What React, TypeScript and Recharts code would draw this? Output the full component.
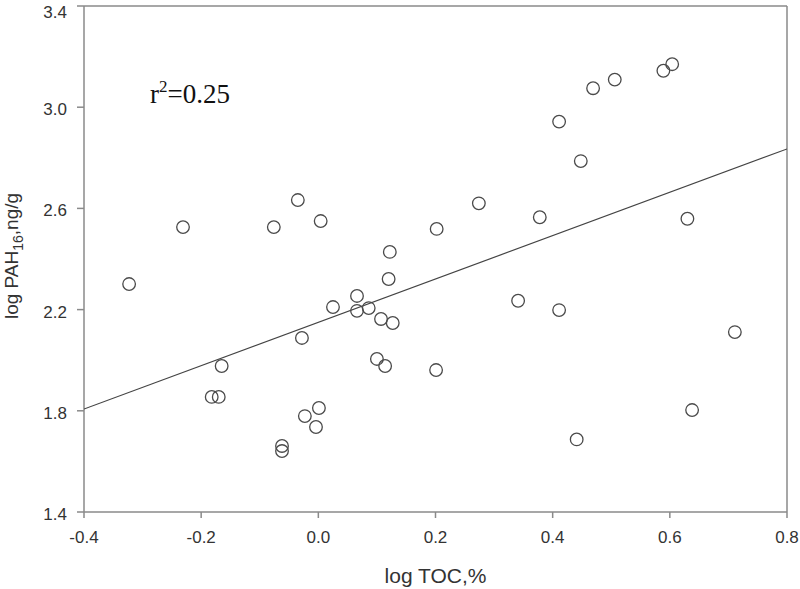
import React from 'react';
import {
    ScatterChart,
    Scatter,
    XAxis,
    YAxis,
    ReferenceLine,
    Label,
} from 'recharts';

// log TOC (%) for each sample
const tocValues = [
    -0.323, -0.231, -0.165, -0.182, -0.17, -0.076, -0.035, 0.004, -0.028,
    -0.023, 0.001, -0.004, -0.062, -0.062, 0.025, 0.066, 0.066, 0.086, 0.107,
    0.127, 0.122, 0.12, 0.1, 0.114, 0.202, 0.201, 0.274, 0.378, 0.341, 0.411,
    0.411, 0.448, 0.469, 0.506, 0.589, 0.604, 0.63, 0.638, 0.441, 0.711,
];

// log PAH16 (ng/g) for each sample
const pahValues = [
    2.301, 2.526, 1.977, 1.855, 1.855, 2.526, 2.633, 2.55, 2.088, 1.779, 1.811,
    1.736, 1.661, 1.641, 2.21, 2.254, 2.195, 2.206, 2.163, 2.147, 2.428, 2.321,
    2.005, 1.977, 2.519, 1.961, 2.62, 2.565, 2.235, 2.198, 2.943, 2.787, 3.075,
    3.109, 3.144, 3.17, 2.559, 1.803, 1.687, 2.111,
];

// fitted regression line end points
const fitX = [-0.4, 0.8];
const fitY = [1.807, 2.835];

const xTicks = [-0.4, -0.2, 0.0, 0.2, 0.4, 0.6, 0.8];
const yTicks = [1.4, 1.8, 2.2, 2.6, 3.0, 3.4];

const points = tocValues.map((x, i) => ({ x, y: pahValues[i] }));
const fitLine = fitX.map((x, i) => ({ x, y: fitY[i] }));

const AXIS = '#8a8a8a';
const TEXT = '#333';
const FONT = '"Liberation Sans", Arial, sans-serif';

const YTitle = () => {
    const cx = 18;
    const cy = 256;
    return (
        <text
            x={cx}
            y={cy}
            transform={`rotate(-90, ${cx}, ${cy})`}
            textAnchor="middle"
            fill={TEXT}
            fontSize={19}
            fontFamily={FONT}
        >
            log PAH
            <tspan fontSize={14} dy={5}>
                16
            </tspan>
            <tspan dy={-5}>,ng/g</tspan>
        </text>
    );
};

const App = () => {
    return (
        <div style={{ position: 'absolute', left: 0, top: 0, width: 800, height: 589, background: '#fff' }}>
            <ScatterChart
                width={800}
                height={589}
                margin={{ top: 6, right: 13, left: 0, bottom: 0 }}
            >
                <XAxis
                    type="number"
                    dataKey="x"
                    domain={[-0.4, 0.8]}
                    ticks={xTicks}
                    tickFormatter={(v: number) => v.toFixed(1)}
                    height={77}
                    stroke={AXIS}
                    strokeWidth={1.5}
                    tickSize={6}
                    tickMargin={13}
                    tick={{ fill: TEXT, fontSize: 17, fontFamily: FONT }}
                    allowDataOverflow
                >
                    <Label
                        value="log TOC,%"
                        position="insideBottom"
                        offset={6}
                        fill={TEXT}
                        fontSize={21}
                        fontFamily={FONT}
                    />
                </XAxis>
                <YAxis
                    type="number"
                    dataKey="y"
                    domain={[1.4, 3.4]}
                    ticks={yTicks}
                    tickFormatter={(v: number) => v.toFixed(1)}
                    width={84}
                    stroke={AXIS}
                    strokeWidth={1.5}
                    tickSize={7}
                    tickMargin={10}
                    tick={{ fill: TEXT, fontSize: 17, fontFamily: FONT, dy: 2 }}
                    allowDataOverflow
                >
                    <Label content={YTitle} />
                </YAxis>
                <ReferenceLine y={3.4} stroke={AXIS} strokeWidth={1.5} />
                <ReferenceLine x={0.8} stroke={AXIS} strokeWidth={1.5} />
                <Scatter
                    data={fitLine}
                    line={{ stroke: '#444', strokeWidth: 1.2 }}
                    shape={() => <g />}
                    isAnimationActive={false}
                />
                <Scatter
                    data={points}
                    shape={(p: any) => (
                        <circle
                            cx={p.cx}
                            cy={p.cy}
                            r={6.3}
                            fill="none"
                            stroke="#4a4a4a"
                            strokeWidth={1.3}
                        />
                    )}
                    isAnimationActive={false}
                />
            </ScatterChart>
            <div
                style={{
                    position: 'absolute',
                    left: 150,
                    top: 80,
                    fontFamily: '"Liberation Serif", "Times New Roman", serif',
                    fontSize: 27,
                    color: '#111',
                    lineHeight: '28px',
                }}
            >
                r<sup style={{ fontSize: 17, verticalAlign: 11, lineHeight: 0 }}>2</sup>=0.25
            </div>
        </div>
    );
};

export default App;
